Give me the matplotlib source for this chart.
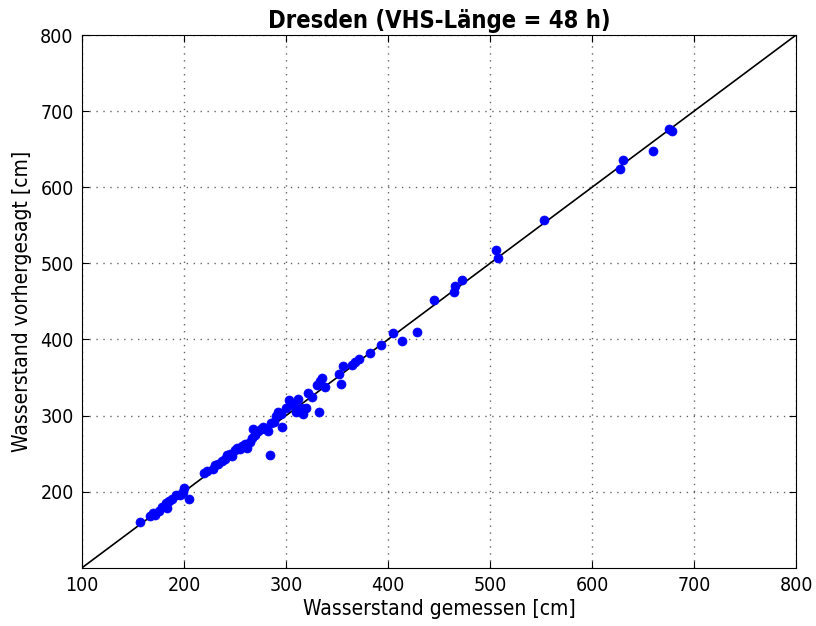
import matplotlib
matplotlib.use("Agg")
import matplotlib.pyplot as plt

gemessen = [157, 167, 170, 172, 175, 178, 182, 183, 185, 188, 192, 196, 198, 199, 200, 205,
            220, 223, 228, 230, 233, 237, 240, 242, 245, 247, 250, 252, 255, 257, 260, 262,
            265, 267, 268, 270, 273, 275, 277, 280, 282, 284, 285, 288, 290, 292, 295, 296,
            300, 303, 305, 308, 310, 312, 315, 317, 320, 322, 325, 330, 333, 335, 332, 338,
            352, 354, 356, 365, 368, 372, 382, 393, 405, 414, 428, 445, 465, 466, 473,
            506, 508, 553, 627, 630, 660, 675, 678]
vorhergesagt = [160, 168, 172, 170, 175, 180, 185, 178, 188, 190, 195, 195, 198, 200, 205, 190,
                225, 227, 230, 235, 237, 240, 243, 248, 250, 247, 255, 258, 256, 260, 262, 258,
                265, 270, 283, 275, 280, 282, 285, 283, 280, 248, 290, 292, 300, 305, 302, 285,
                310, 320, 315, 312, 305, 322, 310, 302, 310, 330, 325, 340, 345, 350, 305, 338,
                355, 342, 365, 367, 370, 374, 382, 393, 408, 398, 410, 452, 462, 470, 478,
                517, 507, 557, 624, 636, 648, 676, 674]

diag = [100, 800]

plt.rcParams["font.family"] = "DejaVu Sans"
plt.rcParams["font.stretch"] = "condensed"

fig = plt.figure(figsize=(8.16, 6.26), dpi=100)
ax = fig.add_axes([0.1005, 0.093, 0.875, 0.851])

ax.plot(diag, diag, color="black", linewidth=1.2, zorder=2)
ax.scatter(gemessen, vorhergesagt, s=42, color="#0000ff", edgecolors="#0000ff",
           linewidths=0.5, zorder=3)

ax.set_xlim(100, 800)
ax.set_ylim(100, 800)
ax.set_xticks(range(100, 801, 100))
ax.set_yticks(range(200, 801, 100))
ax.grid(True, color="black", linestyle=(0, (1, 4)), linewidth=1.0, alpha=0.6)
ax.tick_params(direction="in", length=5, labelsize=14, pad=6, top=True, right=True)

ax.set_title("Dresden (VHS-Länge = 48 h)", fontsize=17, fontweight="bold", pad=5)
ax.set_xlabel("Wasserstand gemessen [cm]", fontsize=15, labelpad=3)
ax.set_ylabel("Wasserstand vorhergesagt [cm]", fontsize=15, labelpad=6)

fig.savefig("out.png", dpi=100, facecolor="white")
